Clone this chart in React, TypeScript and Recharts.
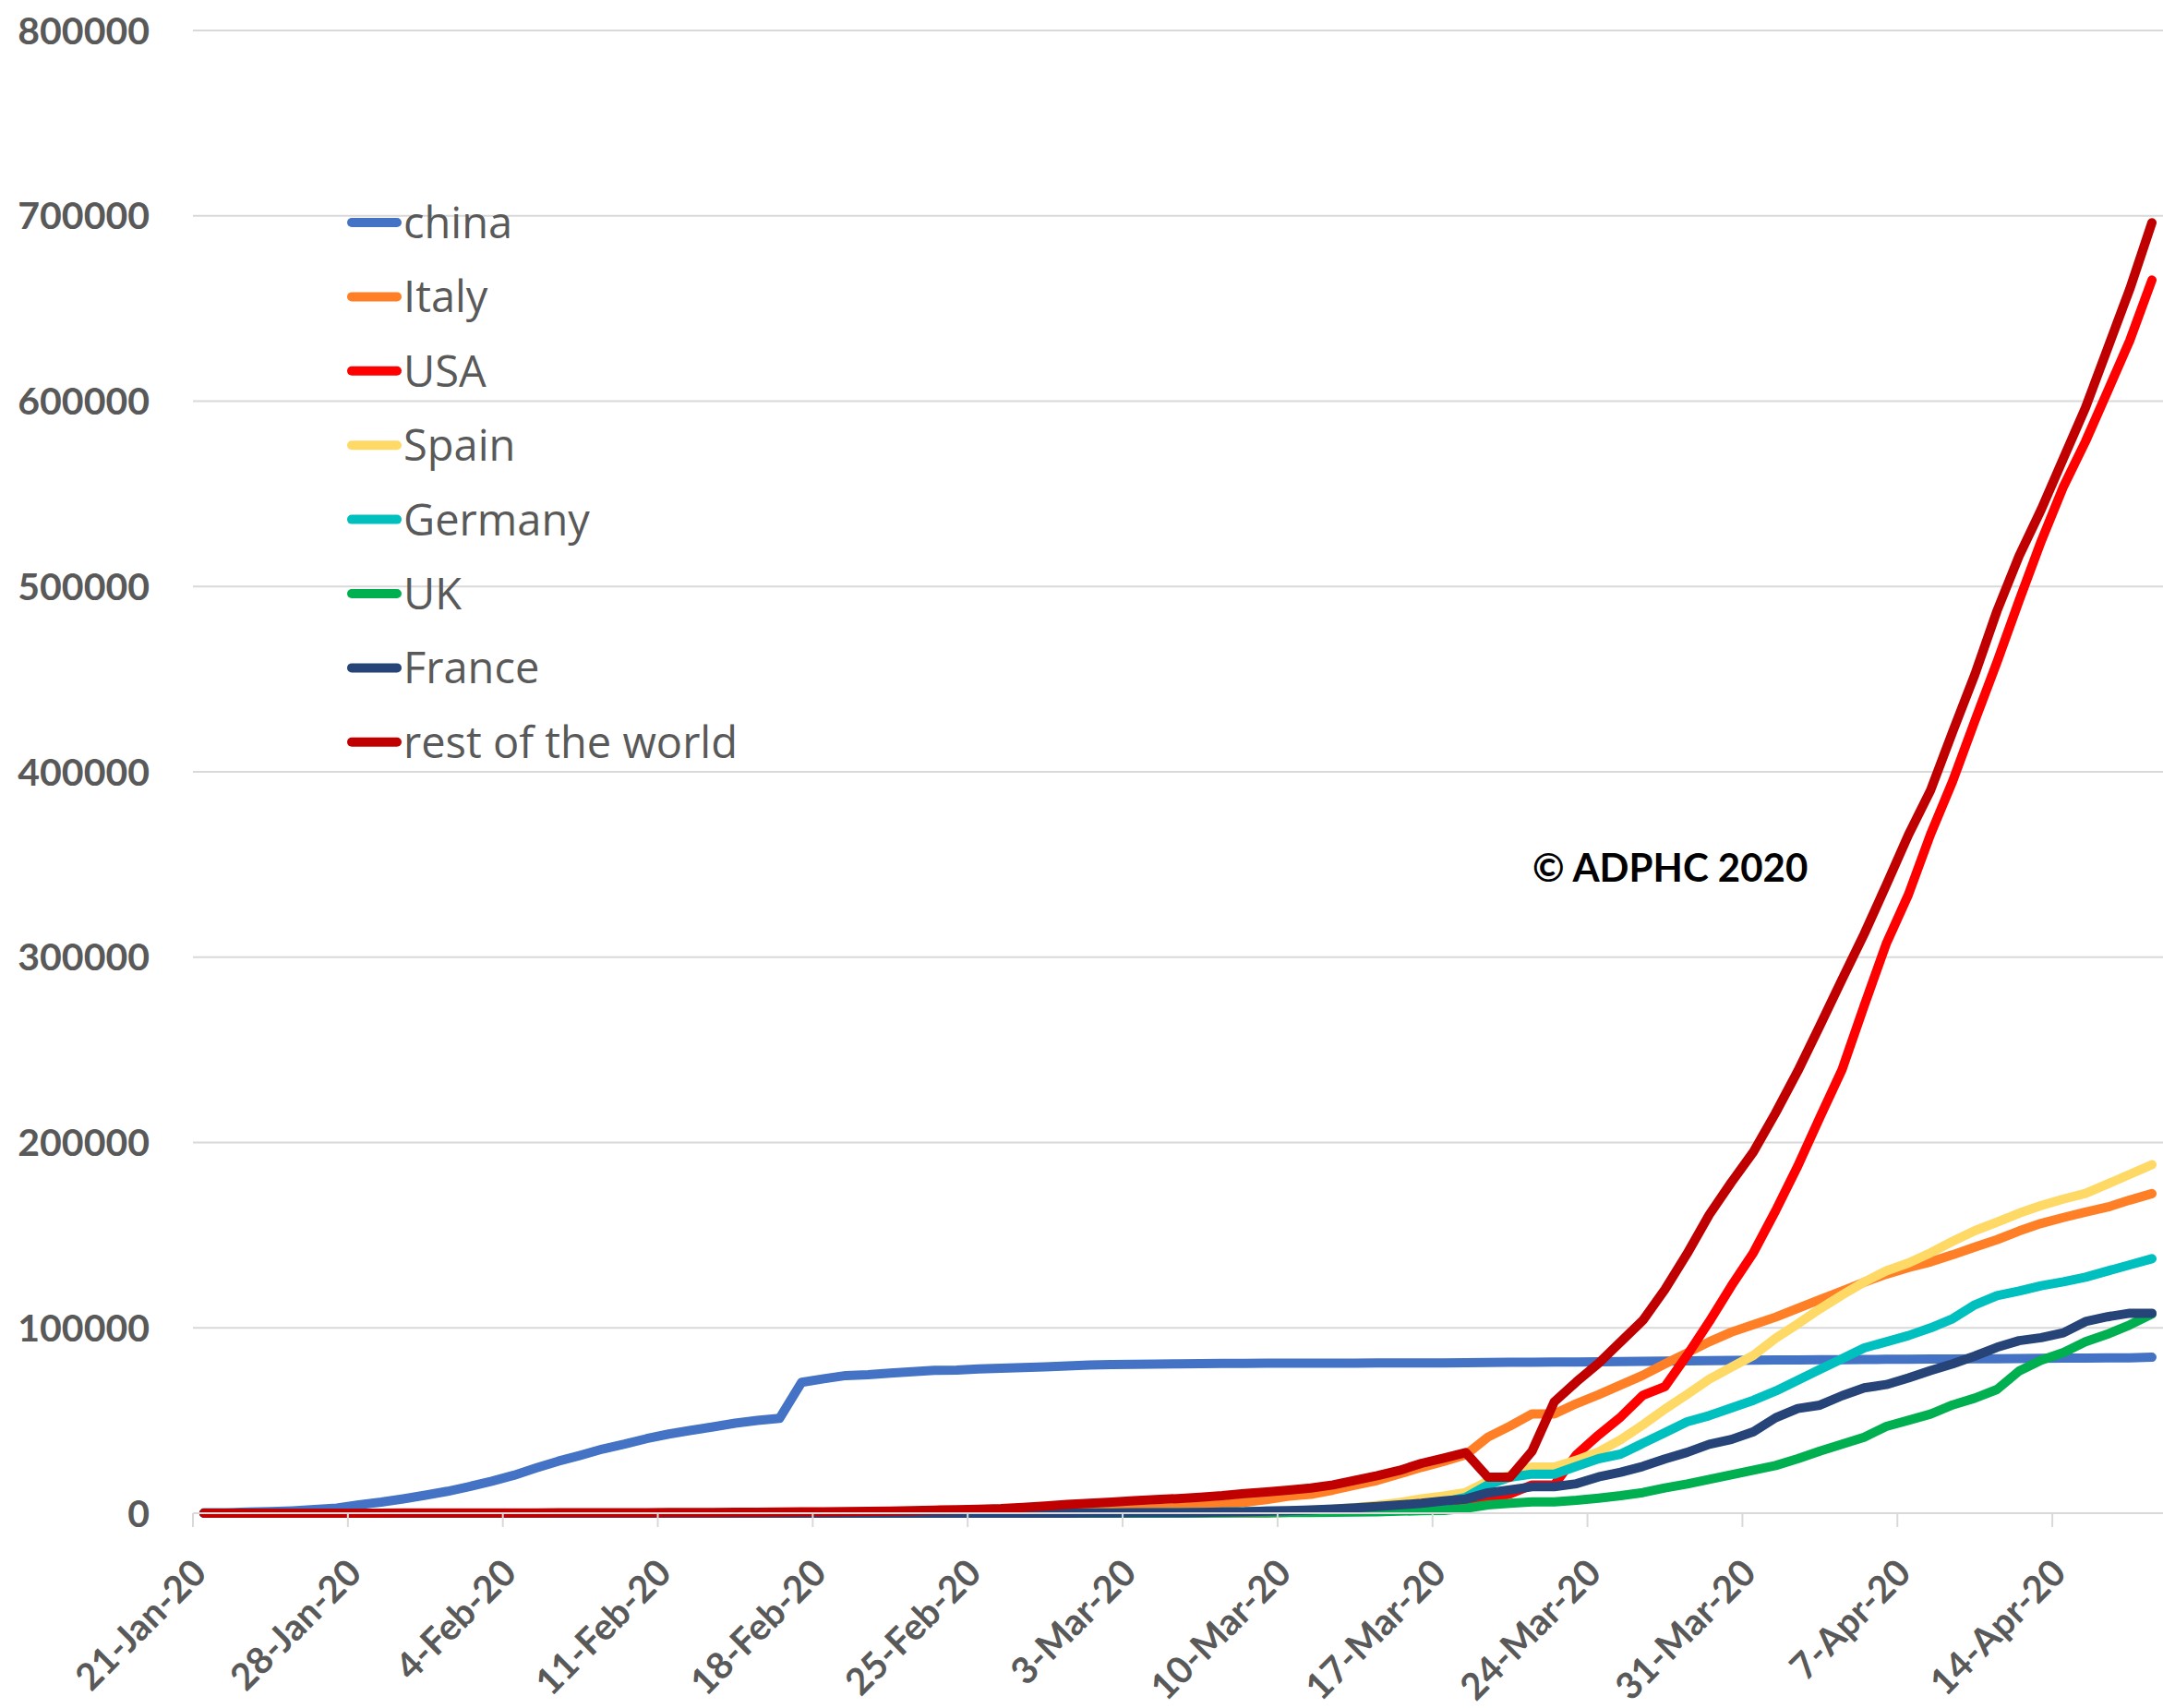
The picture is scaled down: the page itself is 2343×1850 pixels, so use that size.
import { LineChart, Line, XAxis, YAxis, CartesianGrid, Legend } from "recharts"

// cumulative confirmed cases per daily report, 21-Jan-20 .. 18-Apr-20
const tickLabels = [
  "21-Jan-20", "28-Jan-20", "4-Feb-20", "11-Feb-20", "18-Feb-20", "25-Feb-20", "3-Mar-20",
  "10-Mar-20", "17-Mar-20", "24-Mar-20", "31-Mar-20", "7-Apr-20", "14-Apr-20",
]
const yTicks = [0, 100000, 200000, 300000, 400000, 500000, 600000, 700000, 800000]

const china = [
  278, 309, 571, 830, 1297, 1985, 2741, 4537, 5997, 7736,
  9720, 11821, 14411, 17238, 20471, 24363, 28060, 31211, 34598, 37251,
  40235, 42708, 44730, 46550, 48548, 50054, 51174, 70635, 72528, 74280,
  74675, 75569, 76392, 77042, 77262, 77780, 78191, 78630, 78961, 79394,
  79968, 80174, 80304, 80422, 80565, 80711, 80813, 80859, 80904, 80924,
  80955, 80981, 80991, 81021, 81048, 81077, 81116, 81174, 81300, 81416,
  81498, 81603, 81601, 81747, 81846, 81961, 82078, 82230, 82341, 82447,
  82545, 82631, 82724, 82802, 82875, 82930, 83005, 83071, 83157, 83249,
  83305, 83369, 83482, 83597, 83696, 83745, 83797, 83805, 84149,
]
const italy = [
  0, 0, 0, 0, 0, 0, 0, 0, 0, 0,
  2, 2, 2, 2, 2, 2, 2, 3, 3, 3,
  3, 3, 3, 3, 3, 3, 3, 3, 3, 3,
  3, 3, 9, 76, 124, 229, 322, 400, 650, 888,
  1128, 1689, 2036, 2502, 3089, 3858, 4636, 5883, 7375, 9172,
  10149, 12462, 15113, 17660, 21157, 24747, 27980, 31506, 41035, 47021,
  53578, 53578, 59138, 63927, 69176, 74386, 80539, 86498, 92472, 97689,
  101739, 105792, 110574, 115242, 119827, 124632, 128948, 132547, 135586, 139422,
  143626, 147577, 152271, 156363, 159516, 162488, 165155, 168941, 172434,
]
const usa = [
  0, 1, 1, 2, 2, 5, 5, 5, 5, 5,
  6, 7, 8, 11, 11, 11, 11, 11, 11, 11,
  12, 13, 13, 13, 13, 13, 15, 15, 15, 15,
  15, 15, 35, 35, 35, 35, 53, 59, 59, 59,
  62, 62, 64, 108, 129, 148, 213, 213, 213, 472,
  696, 987, 1264, 1678, 1678, 1678, 1678, 3503, 7087, 10442,
  15219, 15219, 31573, 42164, 51914, 63570, 68334, 85228, 103321, 122653,
  140640, 163199, 187302, 213600, 239279, 273808, 307318, 333811, 366317, 395030,
  427460, 459165, 492416, 524514, 553822, 578268, 605390, 632781, 665330,
]
const spain = [
  0, 0, 0, 0, 0, 0, 0, 0, 0, 0,
  0, 1, 1, 1, 1, 1, 1, 1, 1, 1,
  2, 2, 2, 2, 2, 2, 2, 2, 2, 2,
  2, 2, 2, 2, 2, 2, 2, 12, 23, 32,
  45, 73, 114, 151, 198, 237, 282, 430, 589, 999,
  1622, 2140, 3004, 4231, 5753, 7753, 9191, 11178, 17147, 20410,
  24926, 24926, 28572, 33089, 39673, 47610, 56188, 64059, 72248, 78797,
  85195, 94417, 102136, 110238, 117710, 124736, 130759, 135032, 140510, 146690,
  152446, 157022, 161852, 166019, 169496, 172541, 177633, 182816, 188068,
]
const germany = [
  0, 0, 0, 0, 0, 0, 0, 1, 4, 4,
  5, 7, 8, 10, 12, 12, 12, 13, 13, 14,
  14, 16, 16, 16, 16, 16, 16, 16, 16, 16,
  16, 16, 16, 16, 16, 16, 18, 21, 26, 53,
  66, 117, 150, 188, 240, 400, 639, 795, 1112, 1139,
  1296, 1567, 2369, 3062, 3795, 4838, 6012, 8500, 15270, 19430,
  21090, 21090, 25240, 29390, 31880, 37690, 43500, 49310, 52640, 56780,
  60930, 65900, 71730, 77540, 83350, 89160, 92490, 95820, 99970, 104950,
  112420, 117400, 119890, 122710, 124870, 127360, 130680, 134000, 137310,
]
const uk = [
  0, 0, 0, 0, 0, 0, 0, 0, 0, 0,
  0, 2, 2, 2, 2, 2, 2, 3, 3, 3,
  8, 8, 9, 9, 9, 9, 9, 9, 9, 9,
  9, 9, 9, 9, 9, 9, 13, 13, 15, 20,
  23, 36, 40, 51, 85, 115, 163, 206, 273, 321,
  373, 459, 590, 797, 1061, 1391, 1543, 2626, 4480, 5310,
  6140, 6140, 6970, 8130, 9460, 11120, 13610, 15770, 18260, 20750,
  23240, 25730, 29390, 33540, 37190, 41010, 46820, 50150, 53460, 58440,
  62090, 66740, 76710, 82520, 86670, 92480, 96630, 101610, 107420,
]
const france = [
  0, 0, 0, 0, 3, 3, 3, 4, 4, 5,
  6, 6, 6, 6, 6, 6, 6, 6, 11, 11,
  11, 11, 11, 11, 11, 12, 12, 12, 12, 12,
  12, 12, 12, 12, 12, 12, 18, 18, 38, 57,
  100, 130, 191, 212, 282, 420, 613, 706, 1116, 1402,
  1774, 2269, 2860, 3640, 4469, 5380, 6573, 7652, 10995, 12612,
  14282, 14282, 15900, 19600, 22100, 25240, 29300, 32800, 37200, 39800,
  44000, 51500, 56500, 58300, 63400, 67600, 69400, 73000, 77000, 80600,
  84800, 89500, 93100, 94700, 97300, 103400, 106000, 107900, 107900,
]
const restOfWorld = [
  4, 5, 9, 13, 18, 25, 35, 45, 60, 70,
  90, 110, 125, 135, 140, 160, 190, 240, 255, 270,
  280, 360, 400, 410, 470, 490, 650, 760, 760, 880,
  1020, 1130, 1330, 1680, 1880, 2150, 2500, 3150, 3900, 4700,
  5400, 6000, 6700, 7300, 7900, 8600, 9460, 10600, 11460, 12450,
  13610, 15270, 17760, 20260, 23080, 26900, 29720, 32700, 19430, 19430,
  33540, 60100, 70900, 80900, 92500, 104000, 120700, 140000, 161000, 178500,
  195000, 216000, 238500, 263000, 288000, 312500, 339000, 366000, 390000, 421700,
  452500, 486800, 516500, 541600, 569100, 596500, 628500, 660500, 696300,
]

const series = [
  { key: "china", name: "china", color: "#4472C4", values: china },
  { key: "italy", name: "Italy", color: "#FF7F27", values: italy },
  { key: "usa", name: "USA", color: "#FF0000", values: usa },
  { key: "spain", name: "Spain", color: "#FFD966", values: spain },
  { key: "germany", name: "Germany", color: "#00BFBF", values: germany },
  { key: "uk", name: "UK", color: "#00B050", values: uk },
  { key: "france", name: "France", color: "#264478", values: france },
  { key: "row", name: "rest of the world", color: "#C00000", values: restOfWorld },
]

const dayCount = china.length
const weekTicks = tickLabels.map((_, k) => k * 7)

// each day sits in the middle of its own slot on the date axis
const rows = china.map((_, i) => {
  const row: Record<string, number> = { x: i + 0.5 }
  series.forEach((s) => {
    row[s.key] = s.values[i]
  })
  return row
})

const axisGrey = "#D9D9D9"
const labelGrey = "#595959"
const lineWidth = 10

function DateTick({ x, y, payload }: any) {
  const px = x + 17
  const py = y + 52
  return (
    <text
      x={px}
      y={py}
      transform={`rotate(-45 ${px} ${py})`}
      textAnchor="end"
      fill={labelGrey}
      fontFamily="Lato"
      fontWeight={700}
      fontSize={40}
    >
      {tickLabels[Math.round(payload.value / 7)]}
    </text>
  )
}

function LegendList() {
  return (
    <svg width={620} height={660}>
      {series.map((s, k) => {
        const cy = 41 + k * 80.4
        return (
          <g key={s.key}>
            <line x1={15} x2={64} y1={cy} y2={cy} stroke={s.color} strokeWidth={lineWidth} strokeLinecap="round" />
            <text x={71} y={cy + 17} fontFamily="Open Sans" fontSize={47} fill={labelGrey}>
              {s.name}
            </text>
          </g>
        )
      })}
    </svg>
  )
}

export default function App() {
  return (
    <div style={{ position: "relative", width: 2343, height: 1850, background: "#fff" }}>
      <style>{"body{margin:0}"}</style>
      <LineChart width={2343} height={1850} data={rows} margin={{ top: 33, right: 0, left: 0, bottom: 0 }}>
        <CartesianGrid vertical={false} stroke={axisGrey} strokeWidth={2} />
        <XAxis
          type="number"
          dataKey="x"
          domain={[0, dayCount]}
          ticks={weekTicks}
          interval={0}
          height={211}
          axisLine={{ stroke: axisGrey, strokeWidth: 2 }}
          tickLine={{ stroke: axisGrey, strokeWidth: 2 }}
          tickSize={15}
          tickMargin={0}
          tick={DateTick}
        />
        <YAxis
          domain={[0, 800000]}
          ticks={yTicks}
          width={209}
          axisLine={false}
          tickLine={false}
          tickSize={0}
          tickMargin={47}
          tick={{ fill: labelGrey, fontFamily: "Lato", fontWeight: 700, fontSize: 41 }}
        />
        <Legend
          layout="horizontal"
          verticalAlign="middle"
          align="center"
          wrapperStyle={{ left: 366, top: 200, width: 620, height: 660 }}
          content={() => <LegendList />}
        />
        {series.map((s) => (
          <Line
            key={s.key}
            type="linear"
            dataKey={s.key}
            name={s.name}
            stroke={s.color}
            strokeWidth={lineWidth}
            strokeLinecap="round"
            strokeLinejoin="round"
            dot={false}
            activeDot={false}
            isAnimationActive={false}
          />
        ))}
      </LineChart>
      <svg
        width={2343}
        height={1850}
        style={{ position: "absolute", left: 0, top: 0, pointerEvents: "none" }}
      >
        <text x={1660} y={955} fontFamily="Lato" fontWeight={700} fontSize={42} fill="#000">
          © ADPHC 2020
        </text>
      </svg>
    </div>
  )
}
